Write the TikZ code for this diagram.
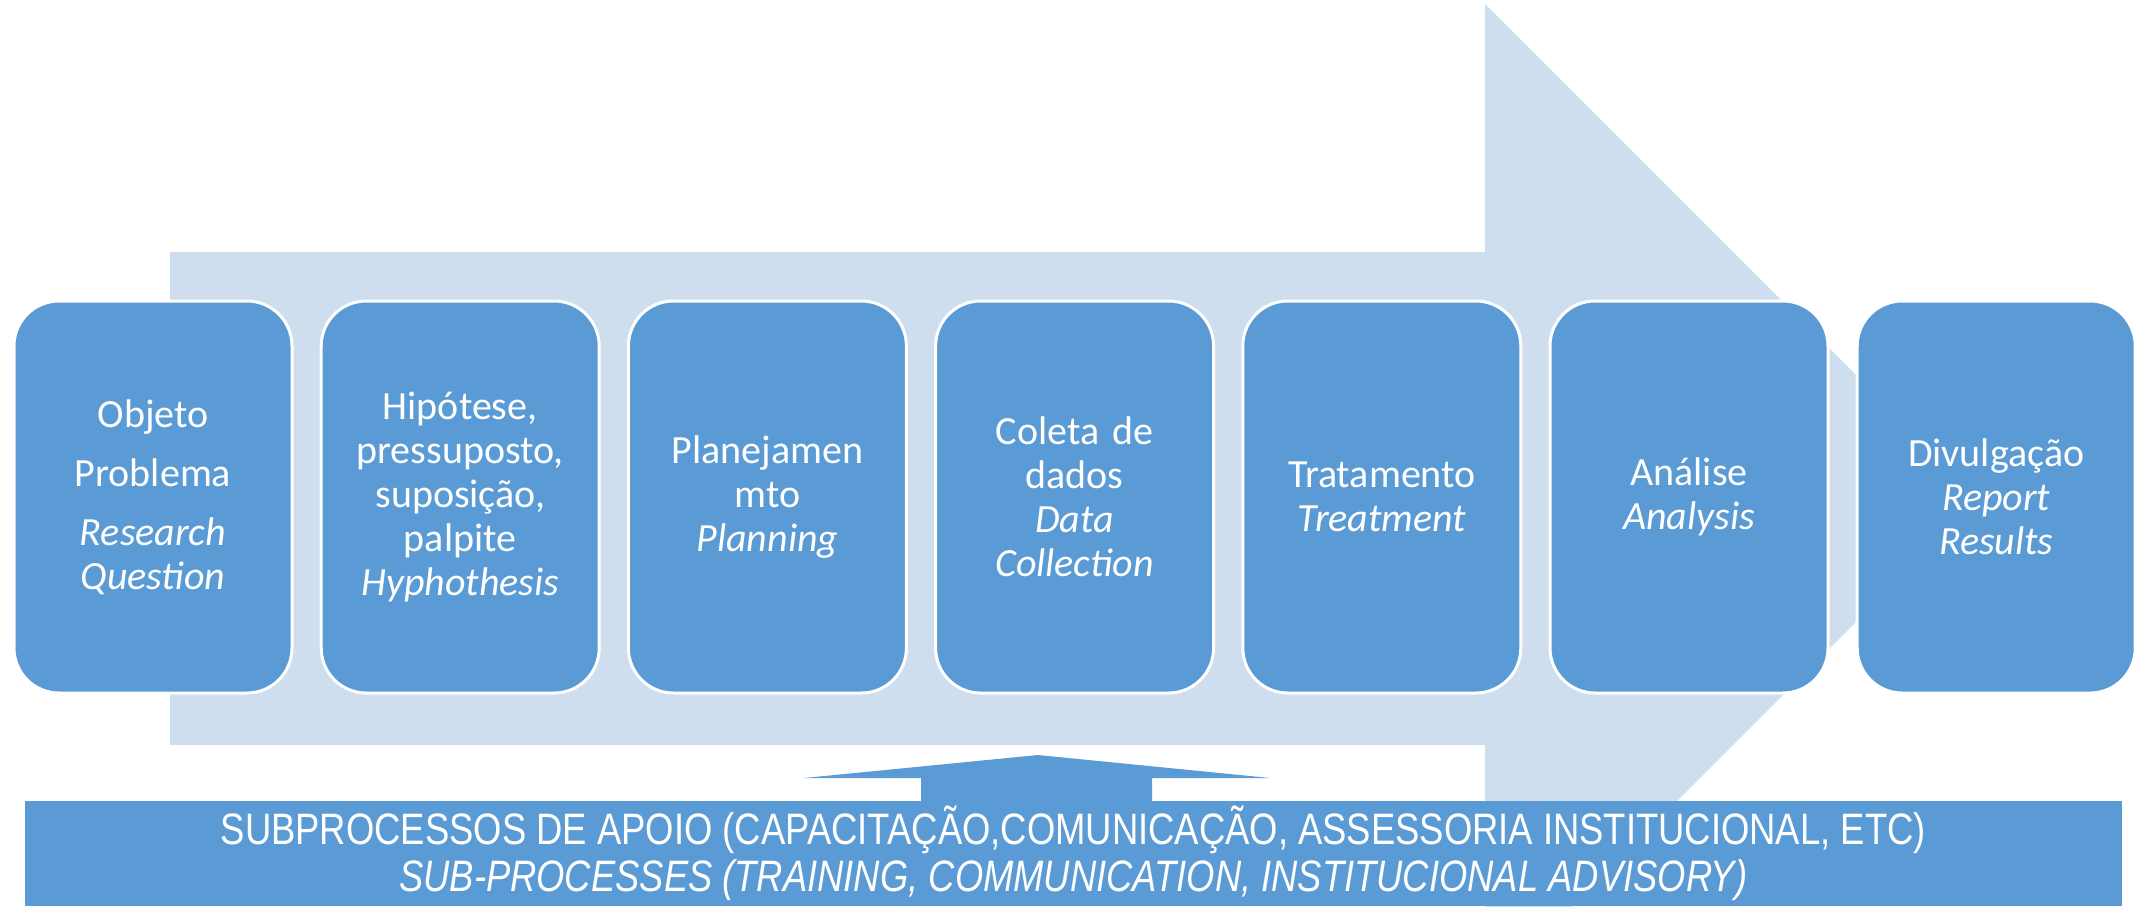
\documentclass[tikz,border=0pt]{standalone}
\usepackage{fontspec}
\usepackage{graphicx}
\setmainfont{Carlito}
\newfontfamily\barfont{Liberation Sans}
\usetikzlibrary{positioning}
\definecolor{stepblue}{HTML}{5B9BD5}
\definecolor{flowblue}{HTML}{CFDEEE}
\tikzset{
        node distance=14.6pt,
        stage/.style={rounded corners=22.5pt, fill=stepblue, draw=white, line width=1.5pt, text=white,
          minimum width=139pt, minimum height=196pt, outer sep=0pt, inner sep=2pt, align=center,
          text width=133pt, font=\fontsize{20}{22}\selectfont},
        flow/.style={fill=flowblue},
        support/.style={fill=stepblue, text=white, minimum width=1048.75pt, minimum height=52.5pt,
          inner sep=0pt, outer sep=0pt, align=center, font=\barfont\fontsize{22}{23.5}\selectfont},
        uparrow/.style={fill=stepblue}
          }
\begin{document}
\begin{tikzpicture}[x=0.5pt, y=-0.5pt]
        \useasboundingbox (0,0) rectangle (2136,906);
        \clip (0,0) rectangle (2136,906);
        \fill[flow] (170,252) -- (1485,252) -- (1485,4) -- (1979.5,498.5) -- (1485,993) -- (1485,745) -- (170,745) -- cycle;
        \node[stage] (objeto) at (153,497) {Objeto\\[7.5pt]Problema\\[7.5pt]\textit{Research}\\\textit{Question}};
        \node[stage, right=of objeto] (hipotese) {Hipótese,\\pressuposto,\\suposição,\\palpite\\\textit{Hyphothesis}};
        \node[stage, right=of hipotese] (planejamento) {Planejamen\\mto\\\textit{Planning}};
        \node[stage, right=of planejamento] (coleta) {Coleta de\\dados\\\textit{Data}\\\textit{Collection}};
        \node[stage, right=of coleta] (tratamento) {Tratamento\\\textit{Treatment}};
        \node[stage, right=of tratamento] (analise) {Análise\\\textit{Analysis}};
        \node[stage, right=of analise] (divulgacao) {Divulgação\\\textit{Report}\\\textit{Results}};
        \node[support] (apoio) at (1073.25,853.5)
          {\resizebox{852.5pt}{\height}{SUBPROCESSOS DE APOIO (CAPACITAÇÃO,COMUNICAÇÃO, ASSESSORIA INSTITUCIONAL, ETC)}\\
           \resizebox{674pt}{\height}{\textit{SUB-PROCESSES (TRAINING, COMMUNICATION, INSTITUCIONAL ADVISORY)}}};
        \fill[uparrow] (921,801) -- (921,778) -- (804,778) -- (1038,755) -- (1270,778) -- (1152,778) -- (1152,801) -- cycle;
      \end{tikzpicture}
\end{document}
